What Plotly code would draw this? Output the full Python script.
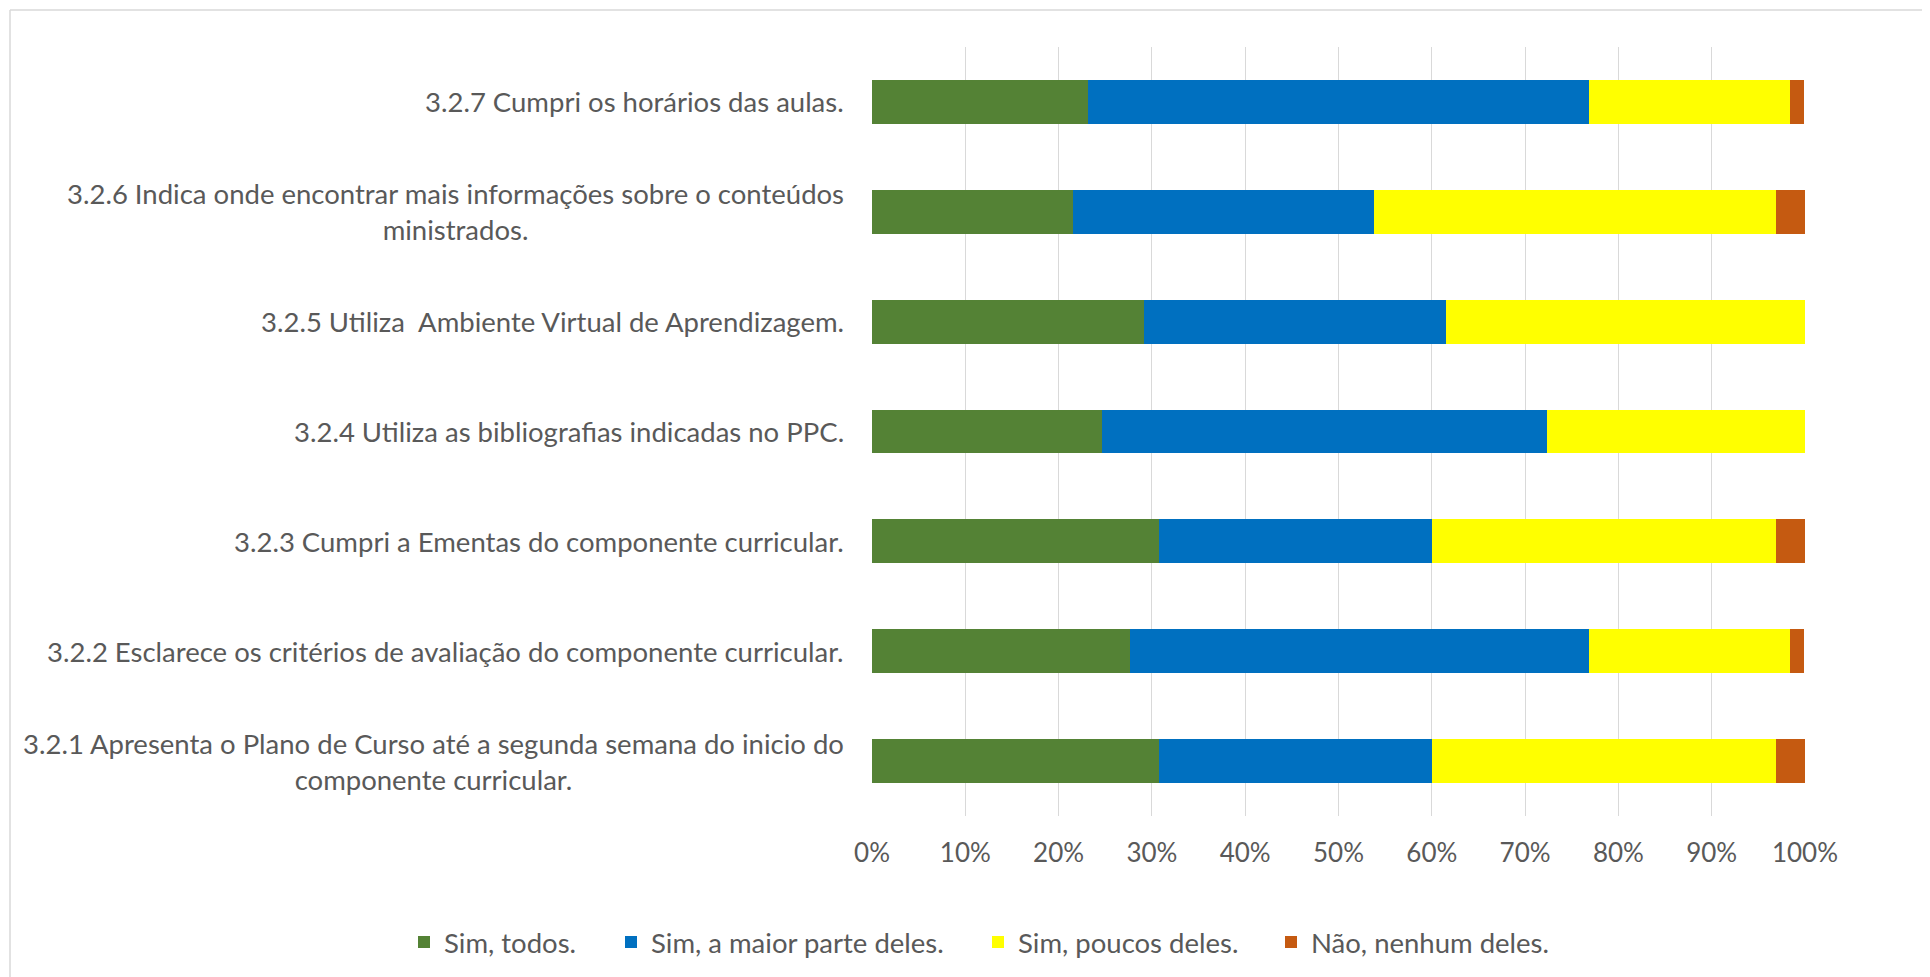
import plotly.graph_objects as go

categories = [
    "3.2.1 Apresenta o Plano de Curso até a segunda semana do inicio do<br>componente curricular.",
    "3.2.2 Esclarece os critérios de avaliação do componente curricular.",
    "3.2.3 Cumpri a Ementas do componente curricular.",
    "3.2.4 Utiliza as bibliografias indicadas no PPC.",
    "3.2.5 Utiliza  Ambiente Virtual de Aprendizagem.",
    "3.2.6 Indica onde encontrar mais informações sobre o conteúdos<br>ministrados.",
    "3.2.7 Cumpri os horários das aulas.",
]

series_names = ["Sim, todos.", "Sim, a maior parte deles.", "Sim, poucos deles.", "Não, nenhum deles."]
sim_todos = [30.8, 27.7, 30.8, 24.6, 29.2, 21.5, 23.1]
sim_maior = [29.2, 49.2, 29.2, 47.7, 32.3, 32.3, 53.8]
sim_poucos = [36.9, 21.5, 36.9, 27.7, 38.5, 43.1, 21.5]
nao_nenhum = [3.1, 1.5, 3.1, 0.0, 0.0, 3.1, 1.5]
colors = ["#548235", "#0070C0", "#FFFF00", "#C55A11"]

tick_vals = [0, 10, 20, 30, 40, 50, 60, 70, 80, 90, 100]
tick_text = [f"{v}%" for v in tick_vals]

FONT = "Lato, Carlito, Calibri, Liberation Sans"
TXT = "#595959"
FS_LABEL = 27.5
FS_TICK = 26
FS_LEG = 27.5

W, H = 1930, 977
OFF = 8  # page body margin
SX0, SX1, SY0, SY1 = 872, 1805, 47, 816
L = SX0 - OFF
T = SY0 - OFF
R = W - (SX1 - OFF)
B = H - (SY1 - OFF)
pw, ph = W - L - R, H - T - B


def px(sx):
    return (sx - OFF - L) / pw


def py(sy):
    return 1 - (sy - OFF - T) / ph


legend_x_screen = [418, 625, 992, 1285]
legend_names = ["legend", "legend2", "legend3", "legend4"]

fig = go.Figure()
for name, vals, col, lg in zip(series_names, [sim_todos, sim_maior, sim_poucos, nao_nenhum], colors, legend_names):
    fig.add_trace(go.Bar(
        y=list(range(len(categories))), x=vals, name=name, orientation="h",
        marker=dict(color=col, line=dict(width=0)), legend=lg,
    ))

annotations = []
for i, c in enumerate(categories):
    annotations.append(dict(
        x=px(846), y=i, xref="paper", yref="y", text=c, showarrow=False,
        xanchor="right", yanchor="middle", align="center",
        font=dict(family=FONT, size=FS_LABEL, color=TXT),
    ))

legends = {}
for lg, sx in zip(legend_names, legend_x_screen):
    legends[lg] = dict(orientation="h", x=px(sx - 14), xanchor="left",
                       y=py(942), yanchor="middle", bgcolor="rgba(0,0,0,0)",
                       font=dict(family=FONT, size=FS_LEG, color=TXT), itemwidth=30)

fig.update_layout(
    width=W, height=H,
    margin=dict(l=L, r=R, t=T, b=B),
    barmode="stack", bargap=0.6,
    paper_bgcolor="white", plot_bgcolor="white",
    font=dict(family=FONT, size=FS_TICK, color=TXT),
    xaxis=dict(range=[0, 100], tickvals=tick_vals, ticktext=tick_text,
               showgrid=True, gridcolor="#D9D9D9", gridwidth=1.3,
               zeroline=False, showline=False, ticks="", ticklabelstandoff=19,
               tickfont=dict(family=FONT, size=FS_TICK, color=TXT), fixedrange=True),
    yaxis=dict(range=[-0.5, len(categories) - 0.5], showticklabels=False,
               showgrid=False, zeroline=False, showline=False, fixedrange=True),
    annotations=annotations,
    shapes=[
        dict(type="line", xref="paper", yref="paper", x0=px(10), x1=px(1940),
             y0=py(10), y1=py(10), line=dict(color="#D9D9D9", width=1.5), layer="below"),
        dict(type="line", xref="paper", yref="paper", x0=px(10), x1=px(10),
             y0=py(10), y1=py(990), line=dict(color="#D9D9D9", width=1.5), layer="below"),
    ],
    showlegend=True,
    **legends,
)

fig.write_html("out.html")
